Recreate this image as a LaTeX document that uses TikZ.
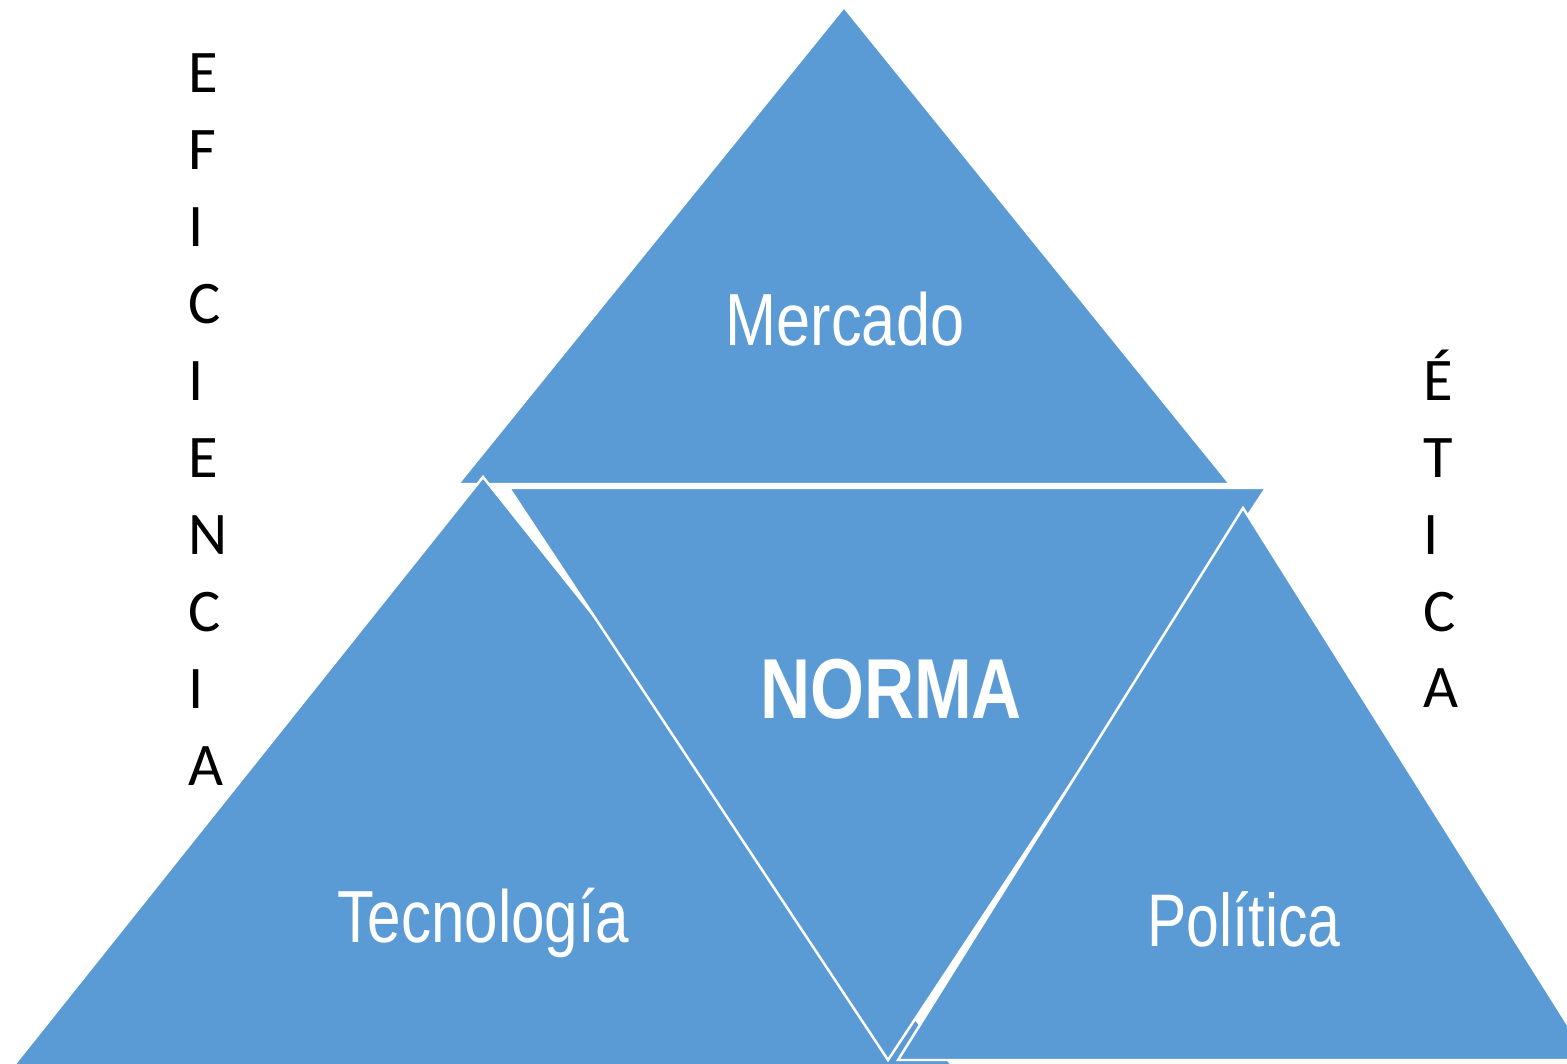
\documentclass[tikz,border=0pt]{standalone}
\usepackage{fontspec}
\setmainfont{Liberation Sans}
\newfontfamily\narrowfont[FakeStretch=0.815]{Liberation Sans}
\newfontfamily\narrowwide[FakeStretch=0.83]{Liberation Sans}
\newfontfamily\narrowslim[FakeStretch=0.79]{Liberation Sans}
\newfontfamily\calfont{Carlito}
\definecolor{triblue}{HTML}{5B9BD5}
\begin{document}
\begin{tikzpicture}[x=0.01cm,y=-0.01cm,
  tri/.style={fill=triblue,draw=white,line width=0.7pt,line join=miter},
  lbl/.style={text=white,anchor=base,inner sep=0pt,font=\narrowfont\fontsize{21}{25}\selectfont},
  boldlbl/.style={lbl,font=\narrowfont\bfseries\fontsize{24.2}{28}\selectfont},
  side/.style={anchor=base west,inner sep=0pt,font=\calfont\fontsize{17.2}{20}\selectfont}]
\useasboundingbox (0,0) rectangle (1567,1064);
\begin{scope}
\clip (0,0) rectangle (1567,1064);
% Mercado
\draw[tri] (844,7) -- (458,484) -- (1230,484) -- cycle;
% Tecnologia
\draw[tri] (483,477) -- (6,1075) -- (960,1075) -- cycle;
% Norma
\draw[tri] (509,488) -- (1266,488) -- (888,1060) -- cycle;
% Politica
\draw[tri] (1243,508) -- (898,1060) -- (1590,1060) -- cycle;
\end{scope}
\node[lbl,font=\narrowwide\fontsize{21}{25}\selectfont] (mercado) at (845,346) {Mercado};
\node[boldlbl] (norma) at (891,718) {NORMA};
\node[lbl] (tecno) at (483,942) {Tecnología};
\node[lbl,font=\narrowslim\fontsize{21.2}{25}\selectfont] (politica) at (1244,946) {Política};
\foreach \l [count=\i] in {E,F,I,C,I,E,N,C,I,A}
  \node[side] (ef\i) at (188,{93+76.9*(\i-1)}) {\l};
\foreach \l [count=\i] in {É,T,I,C,A}
  \node[side] (et\i) at (1423,{401+76.7*(\i-1)}) {\l};
\end{tikzpicture}
\end{document}
